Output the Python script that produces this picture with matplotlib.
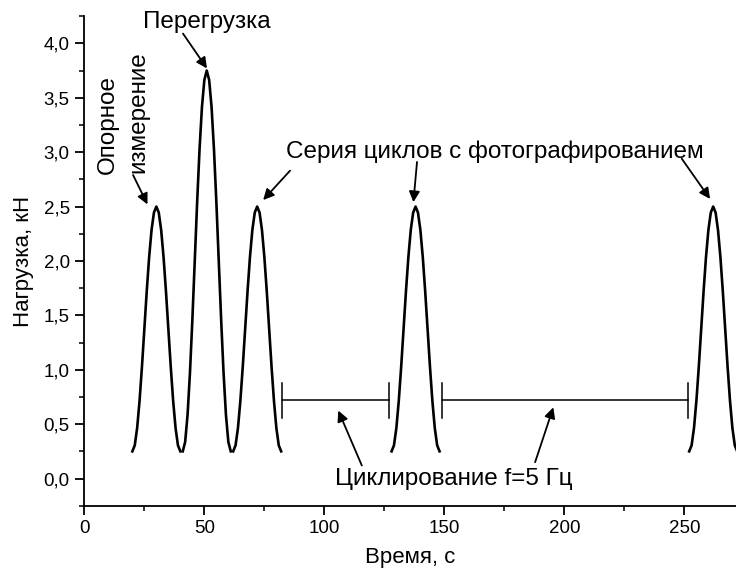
import matplotlib
matplotlib.use("Agg")
import matplotlib.pyplot as plt
from matplotlib.ticker import MultipleLocator, FuncFormatter

plt.rcParams['font.family'] = ['Liberation Sans', 'DejaVu Sans']

# форма одного цикла нагружения (смещение по времени, с)
cycle_dt = [-10, -9, -8, -7, -6, -5, -4, -3, -2, -1, 0,
            1, 2, 3, 4, 5, 6, 7, 8, 9, 10]
# нагрузка, кН: обычный цикл (2,5 кН) и перегрузка (3,75 кН)
load_normal = [0.25, 0.305, 0.465, 0.714, 1.027, 1.375, 1.723, 2.036, 2.285, 2.445, 2.5,
               2.445, 2.285, 2.036, 1.723, 1.375, 1.027, 0.714, 0.465, 0.305, 0.25]
load_over = [0.25, 0.336, 0.584, 0.971, 1.458, 2.0, 2.542, 3.029, 3.416, 3.664, 3.75,
             3.664, 3.416, 3.029, 2.542, 2.0, 1.458, 0.971, 0.584, 0.336, 0.25]

# центры циклов, с
peak_t = [30, 51, 72, 138, 262]
peak_kind = ['normal', 'over', 'normal', 'normal', 'normal']

# интервалы циклирования, с
cyc_start = [82.5, 149]
cyc_end = [127, 251.5]
cyc_level = 0.72

fig = plt.figure(figsize=(7.36, 5.78), dpi=100)
ax = fig.add_axes([0.1146, 0.125, 0.8854, 0.847])

for tc, kind in zip(peak_t, peak_kind):
    y = load_over if kind == 'over' else load_normal
    ax.plot([tc + d for d in cycle_dt], y, color='black', lw=1.9)

# интервалы
for a, b in zip(cyc_start, cyc_end):
    ax.plot([a, b], [cyc_level, cyc_level], color='black', lw=1.1)
    ax.plot([a, a], [cyc_level - 0.16, cyc_level + 0.16], color='black', lw=1.1)
    ax.plot([b, b], [cyc_level - 0.16, cyc_level + 0.16], color='black', lw=1.1)

arr = dict(arrowstyle='-|>', color='black', lw=1.3, mutation_scale=16,
           shrinkA=0, shrinkB=0)
fs = 17.5

ax.text(51, 4.2, 'Перегрузка', ha='center', va='center', fontsize=fs)
ax.annotate('', xy=(51.1, 3.77), xytext=(41.1, 4.09), arrowprops=arr)

ax.text(9.7, 3.25, 'Опорное', rotation=90, ha='center', va='center', fontsize=fs)
ax.text(22.6, 3.37, 'измерение', rotation=90, ha='center', va='center', fontsize=fs)
ax.annotate('', xy=(26.3, 2.52), xytext=(20.3, 2.79), arrowprops=arr)

ax.text(171, 3.0, 'Серия циклов с фотографированием', ha='center', va='center', fontsize=fs)
ax.annotate('', xy=(74.5, 2.56), xytext=(85.7, 2.83), arrowprops=arr)
ax.annotate('', xy=(137.1, 2.54), xytext=(138.6, 2.91), arrowprops=arr)
ax.annotate('', xy=(260.7, 2.57), xytext=(248.9, 2.94), arrowprops=arr)

ax.text(153.8, 0.0, 'Циклирование f=5 Гц', ha='center', va='center', fontsize=fs)
ax.annotate('', xy=(105.8, 0.625), xytext=(115.6, 0.12), arrowprops=arr)
ax.annotate('', xy=(195.4, 0.655), xytext=(187.8, 0.15), arrowprops=arr)

ax.set_xlim(0, 271.5)
ax.set_ylim(-0.25, 4.25)
ax.spines['top'].set_visible(False)
ax.spines['right'].set_visible(False)
for s in ('left', 'bottom'):
    ax.spines[s].set_linewidth(1.3)

ax.xaxis.set_major_locator(MultipleLocator(50))
ax.xaxis.set_minor_locator(MultipleLocator(25))
ax.yaxis.set_major_locator(MultipleLocator(0.5))
ax.yaxis.set_minor_locator(MultipleLocator(0.25))
ax.yaxis.set_major_formatter(FuncFormatter(lambda v, p: ('%.1f' % v).replace('.', ',')))
ax.tick_params(which='major', length=6.5, width=1.3, labelsize=13.5, pad=4)
ax.tick_params(which='minor', length=3.5, width=1.1)

ax.set_xlabel('Время, с', fontsize=16, labelpad=7)
ax.set_ylabel('Нагрузка, кН', fontsize=16, labelpad=7)

fig.savefig('out.png', dpi=100)
